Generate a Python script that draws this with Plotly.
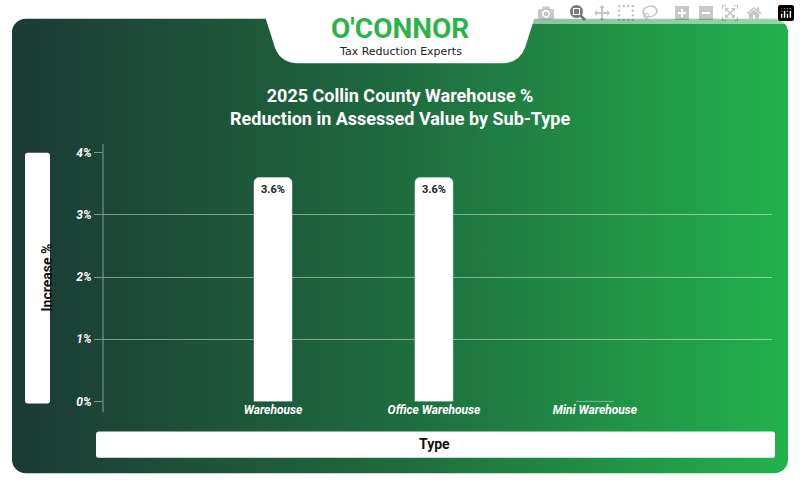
import plotly.graph_objects as go
import urllib.parse

categories = ["Warehouse", "Office Warehouse", "Mini Warehouse"]
values = [3.6, 3.6, 0.0]
labels = ["3.6%", "3.6%", ""]
tick_vals = [0, 1, 2, 3, 4]
tick_text = ["0%", "1%", "2%", "3%", "4%"]

W, H = 800, 492
def px(x): return x / W
def py(y): return 1 - y / H

svg = ('<svg xmlns="http://www.w3.org/2000/svg" width="800" height="492" viewBox="0 0 800 492" preserveAspectRatio="none">'
       '<defs><linearGradient id="g" x1="0" y1="0" x2="1" y2="0">'
       '<stop offset="0" stop-color="#1b3a35"/><stop offset="0.5" stop-color="#1f6b3e"/>'
       '<stop offset="1" stop-color="#22b24c"/></linearGradient></defs>'
       '<rect x="12" y="12" width="776" height="468" rx="14" fill="url(#g)"/>'
       '<path d="M262 0 L538 0 L525 42 Q519 58 502 58 L298 58 Q281 58 275 42 Z" fill="white"/>'
       '<rect x="25" y="150" width="25" height="258" rx="3" fill="white"/>'
       '<rect x="96" y="437" width="679" height="27" rx="3" fill="white"/>'
       '</svg>')
uri = "data:image/svg+xml;charset=utf-8," + urllib.parse.quote(svg)

fig = go.Figure(go.Bar(
    x=categories, y=values, text=labels, textposition="inside",
    insidetextanchor="end", textangle=0,
    textfont=dict(family="Roboto", size=11, color="#222222", weight="bold"),
    marker=dict(color="white", cornerradius=5), width=0.236,
))
fig.update_layout(
    width=W, height=H, margin=dict(l=0, r=0, t=0, b=0),
    paper_bgcolor="white", plot_bgcolor="rgba(0,0,0,0)", showlegend=False,
    images=[dict(source=uri, xref="paper", yref="paper", x=0, y=1, sizex=1, sizey=1,
                 xanchor="left", yanchor="top", sizing="stretch", layer="below")],
    xaxis=dict(domain=[px(103), px(772)], range=[-1.056, 3.1], showgrid=False,
               tickfont=dict(family="Roboto", size=12, color="white", style="italic", weight="bold"),
               ticks="", zeroline=False, showline=False),
    yaxis=dict(domain=[py(406), py(150)], range=[0, 4], tickvals=tick_vals, ticktext=tick_text,
               gridcolor="rgba(255,255,255,0.45)", gridwidth=1, zeroline=False,
               tickfont=dict(family="Roboto", size=12, color="white", style="italic", weight="bold"),
               ticks="outside", ticklen=8, tickcolor="rgba(255,255,255,0.45)", showline=False),
    shapes=[dict(type="line", xref="paper", yref="paper", x0=px(103), x1=px(103),
                 y0=py(141), y1=py(417), line=dict(color="rgba(255,255,255,0.5)", width=1))],
    annotations=[
        dict(text="O'CONNOR", xref="paper", yref="paper", x=0.5, y=py(22), yanchor="middle", showarrow=False,
             font=dict(family="Roboto", size=28, color="#2db34a", weight="bold")),
        dict(text="Tax Reduction Experts", xref="paper", yref="paper", x=0.5, y=py(46), yanchor="middle",
             showarrow=False, font=dict(family="DejaVu Sans", size=11, color="#222222")),
        dict(text="2025 Collin County Warehouse %<br>Reduction in Assessed Value by Sub-Type",
             xref="paper", yref="paper", x=0.5, y=py(103), yanchor="middle", showarrow=False,
             font=dict(family="Roboto", size=18, color="white", weight="bold")),
        dict(text="Increase %", xref="paper", yref="paper", x=px(37.5), y=py(279), yanchor="middle",
             showarrow=False, textangle=-90,
             font=dict(family="Roboto", size=14, color="#111111", weight="bold")),
        dict(text="Type", xref="paper", yref="paper", x=px(435), y=py(450), yanchor="middle",
             showarrow=False, font=dict(family="Roboto", size=14, color="#111111", weight="bold")),
    ],
)
fig.write_html("out.html", post_script="document.body.style.margin='0';document.body.style.padding='0';")
